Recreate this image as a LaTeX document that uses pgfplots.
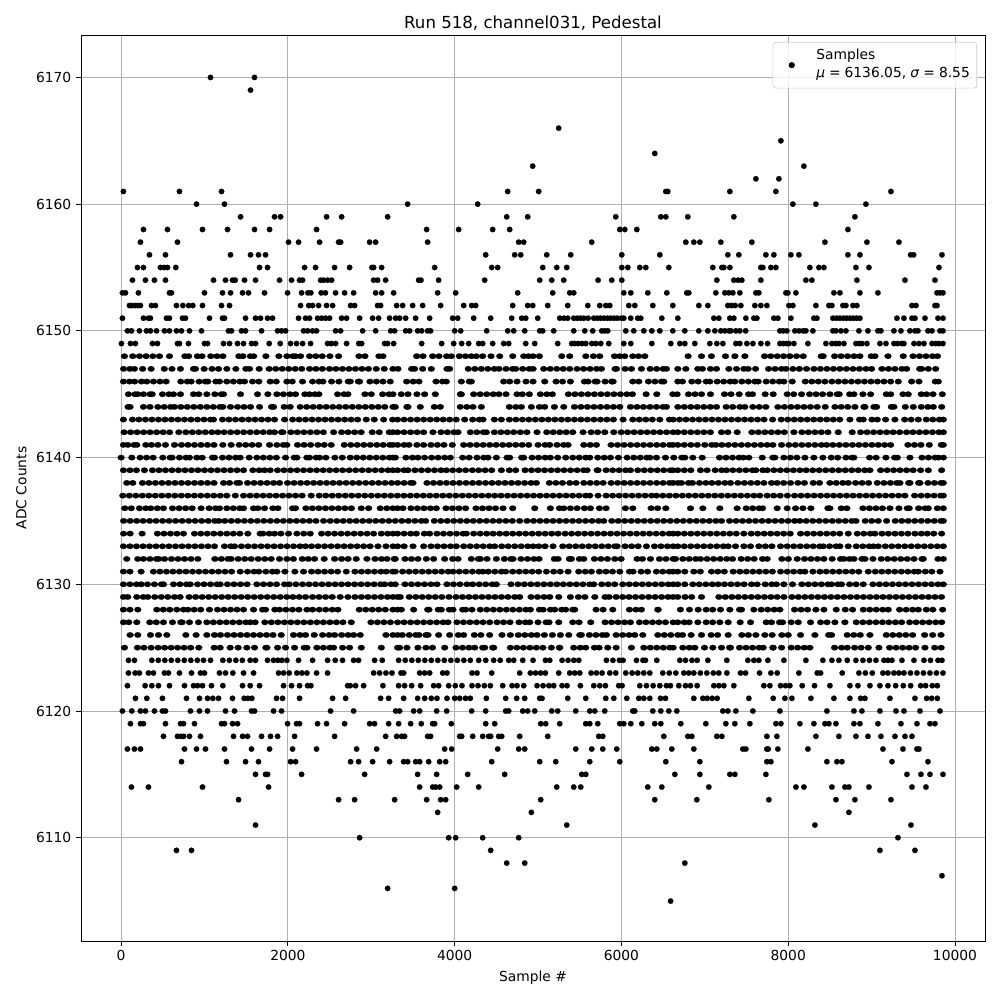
\documentclass[border=0pt]{standalone}
\usepackage{pgfplots}
\pgfplotsset{compat=1.18}
\usepackage{fontspec}
\setmainfont{DejaVu Sans}
\begin{document}
\begin{tikzpicture}[x=1in,y=1in]
\useasboundingbox (0,0) rectangle (10,10);
\begin{axis}[
  at={(0.81in,0.59in)},anchor=south west,
  scale only axis,width=9.04in,height=9.06in,
  xmin=-481,xmax=10360,ymin=6101.85,ymax=6173.35,
  xtick={0,2000,...,10000},ytick={6110,6120,...,6170},
  /pgf/number format/assume math mode=true,
  /pgf/number format/1000 sep={},
  scaled x ticks=false,scaled y ticks=false,
  tick style={black,line width=0.6pt},tick align=outside,
  major tick length=3.5pt,xtick pos=bottom,ytick pos=left,
  axis line style={line width=0.6pt},
  grid=major,grid style={color=black!31,line width=0.7pt},
  ticklabel style={font=\fontsize{10}{12}\selectfont},
  xlabel={Sample \#},ylabel={ADC Counts},
  label style={font=\fontsize{10}{12}\selectfont},
  title={Run 518, channel031, Pedestal},
  title style={font=\fontsize{12}{14}\selectfont,yshift=-6pt},
  legend style={at={(0.9912,0.9923)},anchor=north east,draw=black!20,rounded corners=2pt,fill=white,fill opacity=0.8,text opacity=1,font=\fontsize{10}{12}\selectfont,inner ysep=13.8pt,inner xsep=3pt},
  legend cell align=left,
  legend image code/.code={\path (-10.5pt,0) (15.5pt,0);\fill[black,fill opacity=1] (0,0) circle (2pt);},
]
\addplot[only marks,mark=*,mark size=2pt,mark options={fill=black,draw=black,line width=0.1pt}] table {
1072 6170
1600 6170
1552 6169
5248 6166
7912 6165
6400 6164
4936 6163
8188 6163
7612 6162
7888 6162
28 6161
700 6161
1204 6161
4636 6161
5008 6161
6532 6161
6556 6161
7300 6161
7852 6161
9232 6161
904 6160
1240 6160
3436 6160
4276 6160
8056 6160
8332 6160
8932 6160
1432 6159
1840 6159
1912 6159
2464 6159
2644 6159
3196 6159
4624 6159
4876 6159
5932 6159
6472 6159
6532 6159
6796 6159
7348 6159
8800 6159
268 6158
556 6158
976 6158
1276 6158
1600 6158
1780 6158
2344 6158
3664 6158
4048 6158
4456 6158
4660 6158
5980 6158
6040 6158
6184 6158
8716 6158
232 6157
676 6157
2008 6157
2128 6157
2380 6157
2608 6157
2632 6157
2980 6157
3052 6157
3676 6157
4768 6157
4828 6157
5644 6157
6772 6157
6868 6157
6940 6157
7192 6157
7564 6157
8440 6157
8944 6157
9328 6157
340 6156
532 6156
1312 6156
1552 6156
1648 6156
1732 6156
4372 6156
4720 6156
4792 6156
5104 6156
5392 6156
6004 6156
6460 6156
7276 6156
7408 6156
7732 6156
7828 6156
8032 6156
8128 6156
8716 6156
8860 6156
9468 6156
9504 6156
9844 6156
196 6155
268 6155
472 6155
516 6155
556 6155
656 6155
1660 6155
1756 6155
2200 6155
2332 6155
2560 6155
2740 6155
3008 6155
3028 6155
3124 6155
3760 6155
4444 6155
4516 6155
5056 6155
5224 6155
5344 6155
6004 6155
6076 6155
6220 6155
6292 6155
6568 6155
7096 6155
7204 6155
7228 6155
7300 6155
7672 6155
7696 6155
7792 6155
7852 6155
8260 6155
8368 6155
8428 6155
8812 6155
8968 6155
9808 6155
136 6154
292 6154
400 6154
532 6154
1108 6154
1252 6154
1336 6154
1368 6154
1480 6154
1612 6154
1900 6154
2044 6154
2140 6154
2176 6154
2392 6154
2428 6154
2476 6154
2524 6154
3028 6154
3076 6154
3172 6154
3568 6154
3596 6154
3808 6154
4360 6154
5020 6154
5164 6154
5308 6154
5720 6154
5884 6154
6004 6154
7144 6154
7348 6154
7400 6154
7444 6154
7672 6154
8212 6154
8284 6154
8824 6154
9400 6154
9760 6154
16 6153
52 6153
208 6153
580 6153
604 6153
1000 6153
1216 6153
1312 6153
1456 6153
1528 6153
1720 6153
1996 6153
2164 6153
2240 6153
2276 6153
2400 6153
2450 6153
2572 6153
2680 6153
2788 6153
3052 6153
3124 6153
3268 6153
3796 6153
4012 6153
4756 6153
5176 6153
5380 6153
5428 6153
6028 6153
6112 6153
6316 6153
6544 6153
6784 6153
6808 6153
7132 6153
7240 6153
7288 6153
7336 6153
7420 6153
7612 6153
7648 6153
7972 6153
7996 6153
8092 6153
8548 6153
8620 6153
8860 6153
9076 6153
9784 6153
9820 6153
9856 6153
100 6152
130 6152
170 6152
200 6152
232 6152
364 6152
412 6152
664 6152
740 6152
810 6152
860 6152
976 6152
1204 6152
1300 6152
2152 6152
2250 6152
2296 6152
2368 6152
2464 6152
2536 6152
2752 6152
2800 6152
3076 6152
3112 6152
3304 6152
3376 6152
3496 6152
3616 6152
3832 6152
4108 6152
4204 6152
4252 6152
4696 6152
4876 6152
4936 6152
5116 6152
5356 6152
5596 6152
5740 6152
5812 6152
5860 6152
6088 6152
6160 6152
6376 6152
6616 6152
6928 6152
7036 6152
7276 6152
7320 6152
7364 6152
7432 6152
7600 6152
7672 6152
7744 6152
8008 6152
8056 6152
8332 6152
8488 6152
8524 6152
8656 6152
8692 6152
8776 6152
8824 6152
9484 6152
9532 6152
9760 6152
9784 6152
16 6151
268 6151
328 6151
352 6151
544 6151
580 6151
736 6151
772 6151
1060 6151
1216 6151
1240 6151
1492 6151
1612 6151
1672 6151
1756 6151
1816 6151
2128 6151
2212 6151
2260 6151
2356 6151
2404 6151
2452 6151
2500 6151
2644 6151
2704 6151
2860 6151
3016 6151
3088 6151
3220 6151
3292 6151
3340 6151
3412 6151
3532 6151
3700 6151
3976 6151
4036 6151
4228 6151
4432 6151
4684 6151
4804 6151
4852 6151
4996 6151
5260 6151
5310 6151
5356 6151
5428 6151
5470 6151
5510 6151
5548 6151
5600 6151
5668 6151
5710 6151
5750 6151
5790 6151
5830 6151
5870 6151
5910 6151
5950 6151
6000 6151
6028 6151
6112 6151
6196 6151
6232 6151
6484 6151
6676 6151
7108 6151
7168 6151
7300 6151
7348 6151
7492 6151
7588 6151
7624 6151
7828 6151
7876 6151
8032 6151
8308 6151
8344 6151
8536 6151
8580 6151
8620 6151
8664 6151
8700 6151
8740 6151
8780 6151
8820 6151
8860 6151
9304 6151
9388 6151
9484 6151
9520 6151
9640 6151
9796 6151
9856 6151
76 6150
124 6150
220 6150
304 6150
352 6150
424 6150
520 6150
580 6150
664 6150
724 6150
820 6150
964 6150
1288 6150
1324 6150
1444 6150
1492 6150
1684 6150
1876 6150
1924 6150
1972 6150
2188 6150
2236 6150
2296 6150
2344 6150
2572 6150
2632 6150
2896 6150
3052 6150
3232 6150
3280 6150
3412 6150
3460 6150
3556 6150
3604 6150
3676 6150
3712 6150
4000 6150
4072 6150
4384 6150
4636 6150
4708 6150
4840 6150
5020 6150
5056 6150
5188 6150
5428 6150
5560 6150
5656 6150
5764 6150
5800 6150
5836 6150
6052 6150
6148 6150
6268 6150
6364 6150
6460 6150
6616 6150
6760 6150
6928 6150
7036 6150
7120 6150
7192 6150
7240 6150
7290 6150
7312 6150
7372 6150
7420 6150
7490 6150
7900 6150
7940 6150
7984 6150
8080 6150
8130 6150
8180 6150
8212 6150
8296 6150
8536 6150
8572 6150
8632 6150
8692 6150
8848 6150
8956 6150
9076 6150
9112 6150
9268 6150
9352 6150
9460 6150
9520 6150
9556 6150
9676 6150
9724 6150
9820 6150
9856 6150
4 6149
112 6149
172 6149
376 6149
436 6149
676 6149
700 6149
808 6149
1000 6149
1036 6149
1228 6149
1300 6149
1396 6149
1468 6149
1564 6149
1612 6149
1776 6149
1908 6149
2032 6149
2104 6149
2176 6149
2272 6149
2476 6149
2520 6149
2572 6149
2704 6149
2850 6149
2884 6149
3160 6149
3196 6149
3268 6149
3604 6149
3844 6149
3988 6149
4084 6149
4168 6149
4288 6149
4336 6149
4456 6149
4588 6149
4648 6149
4852 6149
4960 6149
5236 6149
5404 6149
5440 6149
5480 6149
5524 6149
5572 6149
5644 6149
5692 6149
5752 6149
5848 6149
6028 6149
6112 6149
6364 6149
6592 6149
6700 6149
6760 6149
6880 6149
7060 6149
7144 6149
7216 6149
7372 6149
7420 6149
7504 6149
7576 6149
7672 6149
7752 6149
7900 6149
7940 6149
7980 6149
8008 6149
8068 6149
8236 6149
8452 6149
8524 6149
8570 6149
8608 6149
8668 6149
8812 6149
8850 6149
8884 6149
8944 6149
9100 6149
9172 6149
9268 6149
9310 6149
9360 6149
9388 6149
9508 6149
9568 6149
9628 6149
9724 6149
9770 6149
9808 6149
9856 6149
88 6124
160 6124
368 6124
446 6124
524 6124
602 6124
680 6124
758 6124
836 6124
914 6124
988 6124
1072 6124
1220 6124
1298 6124
1376 6124
1454 6124
1548 6124
1612 6124
1756 6124
1828 6124
1880 6124
1928 6124
1988 6124
2128 6124
2296 6124
2476 6124
2568 6124
2656 6124
2788 6124
2848 6124
3040 6124
3132 6124
3328 6124
3408 6124
3486 6124
3564 6124
3642 6124
3720 6124
3798 6124
3876 6124
3954 6124
4032 6124
4110 6124
4188 6124
4288 6124
4372 6124
4468 6124
4546 6124
4648 6124
4708 6124
4816 6124
4940 6124
5088 6124
5140 6124
5288 6124
5360 6124
5428 6124
5488 6124
5820 6124
5898 6124
5976 6124
6020 6124
6180 6124
6258 6124
6288 6124
6424 6124
6700 6124
6768 6124
6846 6124
6908 6124
7036 6124
7264 6124
7516 6124
7588 6124
7648 6124
7756 6124
7948 6124
8212 6124
8416 6124
8524 6124
8608 6124
8708 6124
8812 6124
8896 6124
8974 6124
9052 6124
9148 6124
9196 6124
9244 6124
9364 6124
9508 6124
9628 6124
9706 6124
9796 6124
9844 6124
88 6123
168 6123
220 6123
328 6123
388 6123
520 6123
568 6123
700 6123
844 6123
952 6123
1000 6123
1180 6123
1252 6123
1340 6123
1468 6123
1588 6123
1888 6123
1948 6123
2016 6123
2108 6123
2168 6123
2228 6123
2344 6123
2476 6123
3028 6123
3100 6123
3176 6123
3248 6123
3356 6123
3388 6123
3580 6123
3640 6123
3700 6123
3856 6123
3908 6123
4208 6123
4268 6123
4444 6123
4780 6123
4908 6123
4970 6123
5030 6123
5088 6123
5248 6123
5380 6123
5440 6123
5500 6123
5636 6123
5700 6123
5768 6123
5860 6123
5932 6123
6052 6123
6128 6123
6196 6123
6268 6123
6340 6123
6496 6123
6574 6123
6652 6123
6748 6123
6808 6123
6868 6123
6946 6123
7024 6123
7102 6123
7168 6123
7264 6123
7428 6123
7488 6123
7656 6123
7792 6123
7868 6123
8128 6123
8348 6123
8388 6123
8648 6123
8848 6123
8926 6123
9008 6123
9136 6123
9196 6123
9268 6123
9328 6123
9388 6123
9466 6123
9544 6123
9622 6123
9700 6123
9778 6123
9856 6123
76 6122
288 6122
368 6122
448 6122
580 6122
760 6122
868 6122
916 6122
976 6122
1084 6122
1220 6122
1456 6122
1548 6122
1660 6122
1948 6122
2044 6122
2140 6122
2236 6122
2276 6122
2716 6122
2748 6122
2812 6122
2908 6122
3140 6122
3328 6122
3400 6122
3484 6122
3592 6122
3748 6122
3808 6122
3928 6122
4008 6122
4088 6122
4208 6122
4280 6122
4356 6122
4428 6122
4576 6122
4688 6122
4748 6122
4828 6122
4988 6122
5060 6122
5130 6122
5188 6122
5288 6122
5348 6122
5508 6122
5668 6122
5740 6122
5808 6122
5968 6122
6008 6122
6220 6122
6300 6122
6380 6122
6460 6122
6540 6122
6588 6122
6688 6122
6768 6122
6828 6122
6908 6122
7108 6122
7168 6122
7228 6122
7348 6122
7708 6122
7780 6122
7908 6122
7968 6122
8020 6122
8168 6122
8316 6122
8500 6122
8740 6122
8836 6122
8980 6122
9100 6122
9196 6122
9288 6122
9380 6122
9468 6122
9588 6122
9648 6122
9728 6122
9788 6122
172 6121
308 6121
496 6121
784 6121
940 6121
1036 6121
1100 6121
1168 6121
1336 6121
1476 6121
1520 6121
1568 6121
1864 6121
1936 6121
2140 6121
2536 6121
2692 6121
3112 6121
3208 6121
3388 6121
3556 6121
3640 6121
3720 6121
3788 6121
3908 6121
4000 6121
4060 6121
4130 6121
4188 6121
4380 6121
4612 6121
4744 6121
4840 6121
5020 6121
5048 6121
5356 6121
5572 6121
5812 6121
5908 6121
6064 6121
6208 6121
6268 6121
6340 6121
6468 6121
6528 6121
6868 6121
6976 6121
7028 6121
7088 6121
7148 6121
7528 6121
7820 6121
7960 6121
8044 6121
8272 6121
8548 6121
8740 6121
8868 6121
8920 6121
9220 6121
9520 6121
9660 6121
9720 6121
9788 6121
16 6120
128 6120
232 6120
292 6120
400 6120
496 6120
532 6120
832 6120
940 6120
1036 6120
1252 6120
1360 6120
1564 6120
1600 6120
1828 6120
1924 6120
2512 6120
2788 6120
3292 6120
3340 6120
3508 6120
3580 6120
3784 6120
3904 6120
4204 6120
4372 6120
4612 6120
4648 6120
4816 6120
4876 6120
4960 6120
5164 6120
5236 6120
5452 6120
5620 6120
5680 6120
5800 6120
6136 6120
6160 6120
6376 6120
6472 6120
6568 6120
6664 6120
7216 6120
7276 6120
7372 6120
7576 6120
7900 6120
8464 6120
8788 6120
8884 6120
9100 6120
9292 6120
9388 6120
9580 6120
9820 6120
112 6119
232 6119
268 6119
532 6119
712 6119
748 6119
880 6119
1204 6119
1240 6119
1336 6119
1396 6119
1996 6119
2104 6119
2140 6119
2356 6119
2464 6119
2680 6119
2980 6119
3040 6119
3208 6119
3328 6119
3472 6119
3600 6119
3736 6119
3760 6119
3960 6119
4372 6119
4480 6119
5032 6119
5092 6119
5260 6119
5572 6119
5620 6119
5716 6119
5980 6119
6028 6119
6112 6119
6244 6119
6400 6119
6472 6119
6712 6119
7012 6119
7252 6119
7360 6119
7540 6119
7852 6119
7912 6119
8140 6119
8308 6119
8440 6119
8488 6119
8572 6119
8788 6119
8860 6119
9076 6119
9352 6119
9544 6119
9700 6119
9760 6119
508 6118
676 6118
720 6118
750 6118
820 6118
952 6118
1348 6118
1456 6118
1516 6118
1684 6118
1792 6118
1876 6118
2080 6118
2560 6118
3172 6118
3304 6118
3364 6118
3400 6118
3676 6118
3712 6118
4060 6118
4084 6118
4216 6118
4336 6118
4408 6118
4432 6118
4528 6118
4564 6118
4780 6118
5116 6118
5728 6118
5776 6118
6508 6118
6796 6118
6844 6118
7144 6118
7204 6118
7744 6118
7864 6118
8332 6118
8608 6118
8812 6118
8956 6118
9112 6118
9280 6118
9400 6118
9484 6118
76 6117
160 6117
232 6117
760 6117
904 6117
1012 6117
1240 6117
1564 6117
1780 6117
2056 6117
2344 6117
2824 6117
3064 6117
3880 6117
3964 6117
4516 6117
4768 6117
4840 6117
5452 6117
5644 6117
5776 6117
5944 6117
6364 6117
6424 6117
6604 6117
6868 6117
7456 6117
7492 6117
7744 6117
7760 6117
7876 6117
8236 6117
9136 6117
9376 6117
9544 6117
9568 6117
724 6116
1264 6116
1492 6116
1648 6116
2032 6116
2092 6116
2752 6116
2848 6116
3016 6116
3220 6116
3388 6116
3436 6116
3532 6116
3580 6116
3688 6116
3820 6116
3892 6116
4444 6116
5020 6116
5212 6116
5620 6116
5980 6116
6532 6116
6940 6116
7744 6116
7792 6116
8464 6116
8584 6116
8644 6116
9244 6116
9676 6116
1612 6115
1732 6115
1756 6115
2164 6115
2920 6115
3556 6115
3784 6115
4156 6115
4600 6115
5524 6115
5572 6115
6640 6115
6940 6115
7300 6115
7360 6115
7732 6115
9424 6115
9592 6115
9700 6115
9856 6115
124 6114
328 6114
976 6114
1768 6114
3580 6114
3736 6114
3772 6114
3820 6114
4024 6114
4288 6114
5224 6114
5428 6114
5512 6114
6316 6114
6484 6114
7048 6114
8092 6114
8188 6114
8524 6114
8680 6114
8728 6114
8968 6114
9484 6114
9652 6114
1408 6113
2608 6113
2800 6113
3280 6113
3664 6113
3832 6113
3892 6113
5032 6113
6400 6113
6904 6113
7768 6113
8572 6113
8800 6113
9232 6113
3796 6112
4920 6112
8728 6112
1612 6111
5344 6111
8320 6111
9472 6111
2860 6110
3928 6110
4012 6110
4336 6110
4768 6110
9316 6110
664 6109
844 6109
4432 6109
9100 6109
9520 6109
4624 6108
4840 6108
6760 6108
9844 6107
3196 6106
4000 6106
6590 6105
};
\addlegendentry{\raisebox{3pt}[0pt][0pt]{\begin{minipage}[t]{111pt}Samples\\[0.6pt]\textit{μ} = 6136.05, \textit{σ} = 8.55\end{minipage}}}
\addplot[only marks,forget plot,mark=*,mark size=2pt,mark options={xscale=1.25,fill=black,draw=black,line width=0.1pt}] table {
40 6148
140 6148
220 6148
300 6148
380 6148
460 6148
580 6148
765 6148
810 6148
915 6148
970 6148
1075 6148
1150 6148
1220 6148
1412 6148
1460 6148
1550 6148
1590 6148
1736 6148
1892 6148
1988 6148
2060 6148
2092 6148
2152 6148
2260 6148
2335 6148
2412 6148
2504 6148
2608 6148
2852 6148
2924 6148
3092 6148
3140 6148
3544 6148
3620 6148
3736 6148
3812 6148
3904 6148
3960 6148
4056 6148
4130 6148
4200 6148
4260 6148
4336 6148
4436 6148
4540 6148
4696 6148
4828 6148
4885 6148
4940 6148
5016 6148
5284 6148
5380 6148
5572 6148
5664 6148
5740 6148
5916 6148
5980 6148
6040 6148
6136 6148
6205 6148
6280 6148
6800 6148
6960 6148
7080 6148
7248 6148
7360 6148
7480 6148
7716 6148
7790 6148
7868 6148
7945 6148
8020 6148
8100 6148
8180 6148
8396 6148
8420 6148
8556 6148
8634 6148
8712 6148
8790 6148
8860 6148
8996 6148
9040 6148
9196 6148
9380 6148
9496 6148
9574 6148
9652 6148
9730 6148
9790 6148
30 6147
105 6147
160 6147
258 6147
360 6147
518 6147
610 6147
712 6147
868 6147
892 6147
996 6147
1090 6147
1168 6147
1268 6147
1376 6147
1496 6147
1540 6147
1656 6147
1776 6147
1854 6147
1932 6147
2010 6147
2088 6147
2166 6147
2260 6147
2336 6147
2414 6147
2500 6147
2576 6147
2654 6147
2732 6147
2810 6147
2888 6147
2966 6147
3060 6147
3156 6147
3260 6147
3320 6147
3484 6147
3520 6147
3616 6147
3720 6147
3908 6147
3940 6147
4164 6147
4242 6147
4320 6147
4398 6147
4476 6147
4532 6147
4616 6147
4694 6147
4732 6147
4816 6147
4894 6147
4940 6147
5068 6147
5146 6147
5224 6147
5302 6147
5380 6147
5468 6147
5546 6147
5624 6147
5702 6147
5760 6147
5924 6147
5940 6147
6044 6147
6120 6147
6240 6147
6344 6147
6422 6147
6500 6147
6540 6147
6676 6147
6772 6147
6916 6147
6972 6147
7068 6147
7140 6147
7288 6147
7380 6147
7468 6147
7520 6147
7608 6147
7764 6147
7842 6147
7920 6147
7972 6147
8056 6147
8134 6147
8220 6147
8308 6147
8386 6147
8464 6147
8542 6147
8620 6147
8698 6147
8776 6147
8854 6147
8932 6147
9000 6147
9124 6147
9202 6147
9280 6147
9364 6147
9420 6147
9576 6147
9600 6147
9680 6147
9768 6147
28 6146
100 6146
162 6146
244 6146
308 6146
388 6146
466 6146
540 6146
716 6146
794 6146
840 6146
936 6146
1010 6146
1040 6146
1136 6146
1180 6146
1268 6146
1346 6146
1424 6146
1480 6146
1576 6146
1652 6146
1788 6146
1860 6146
1988 6146
2052 6146
2176 6146
2296 6146
2374 6146
2420 6146
2524 6146
2612 6146
2724 6146
2748 6146
2844 6146
2860 6146
2984 6146
3062 6146
3140 6146
3228 6146
3424 6146
3502 6146
3572 6146
3776 6146
3854 6146
3900 6146
4080 6146
4176 6146
4200 6146
4588 6146
4660 6146
4748 6146
4856 6146
4940 6146
5080 6146
5216 6146
5294 6146
5388 6146
5556 6146
5600 6146
5684 6146
5708 6146
5804 6146
5882 6146
5900 6146
6136 6146
6208 6146
6324 6146
6402 6146
6480 6146
6508 6146
6676 6146
6732 6146
6844 6146
6920 6146
7016 6146
7060 6146
7148 6146
7226 6146
7304 6146
7360 6146
7444 6146
7522 6146
7600 6146
7640 6146
7736 6146
7814 6146
7892 6146
7948 6146
8048 6146
8204 6146
8282 6146
8360 6146
8440 6146
8524 6146
8602 6146
8680 6146
8758 6146
8836 6146
8914 6146
8992 6146
9070 6146
9148 6146
9228 6146
9320 6146
9480 6146
9568 6146
9764 6146
9800 6146
88 6145
166 6145
200 6145
268 6145
346 6145
372 6145
496 6145
574 6145
628 6145
712 6145
868 6145
932 6145
1028 6145
1124 6145
1202 6145
1228 6145
1432 6145
1636 6145
1760 6145
1868 6145
1946 6145
2024 6145
2092 6145
2204 6145
2260 6145
2324 6145
2372 6145
2596 6145
2674 6145
2720 6145
2924 6145
3000 6145
3136 6145
3214 6145
3260 6145
3360 6145
3440 6145
3548 6145
3640 6145
3768 6145
4068 6145
4080 6145
4228 6145
4306 6145
4384 6145
4462 6145
4532 6145
4616 6145
4748 6145
4812 6145
4896 6145
5028 6145
5106 6145
5172 6145
5364 6145
5442 6145
5520 6145
5598 6145
5676 6145
5754 6145
5832 6145
5910 6145
5988 6145
6066 6145
6132 6145
6296 6145
6424 6145
6616 6145
6668 6145
6804 6145
6882 6145
6960 6145
7068 6145
7236 6145
7314 6145
7412 6145
7524 6145
7572 6145
7724 6145
7820 6145
7988 6145
8066 6145
8160 6145
8256 6145
8334 6145
8412 6145
8500 6145
8588 6145
8612 6145
8736 6145
8788 6145
8896 6145
8988 6145
9176 6145
9228 6145
9376 6145
9440 6145
9596 6145
9660 6145
9736 6145
9848 6145
84 6144
108 6144
268 6144
346 6144
440 6144
516 6144
594 6144
640 6144
716 6144
794 6144
872 6144
950 6144
1028 6144
1106 6144
1184 6144
1220 6144
1312 6144
1396 6144
1474 6144
1552 6144
1660 6144
1804 6144
1828 6144
1956 6144
2028 6144
2148 6144
2226 6144
2304 6144
2382 6144
2460 6144
2538 6144
2616 6144
2694 6144
2772 6144
2850 6144
2928 6144
3006 6144
3084 6144
3162 6144
3260 6144
3288 6144
3428 6144
3440 6144
3588 6144
3756 6144
3828 6144
4068 6144
4146 6144
4220 6144
4320 6144
4656 6144
4734 6144
4800 6144
4920 6144
5016 6144
5080 6144
5196 6144
5308 6144
5436 6144
5514 6144
5592 6144
5670 6144
5748 6144
5826 6144
5904 6144
5980 6144
6108 6144
6186 6144
6264 6144
6342 6144
6420 6144
6498 6144
6540 6144
6676 6144
6754 6144
6832 6144
6910 6144
6988 6144
7066 6144
7140 6144
7256 6144
7334 6144
7420 6144
7480 6144
7576 6144
7654 6144
7732 6144
7876 6144
7954 6144
8032 6144
8110 6144
8188 6144
8266 6144
8348 6144
8444 6144
8560 6144
8636 6144
8714 6144
8800 6144
8908 6144
8920 6144
9028 6144
9060 6144
9236 6144
9268 6144
9404 6144
9500 6144
9596 6144
9674 6144
9740 6144
9840 6144
28 6143
136 6143
214 6143
292 6143
370 6143
448 6143
526 6143
604 6143
682 6143
760 6143
838 6143
916 6143
994 6143
1072 6143
1108 6143
1216 6143
1294 6143
1372 6143
1450 6143
1528 6143
1606 6143
1684 6143
1762 6143
1840 6143
1960 6143
2056 6143
2134 6143
2212 6143
2290 6143
2368 6143
2446 6143
2524 6143
2602 6143
2680 6143
2758 6143
2836 6143
2940 6143
3036 6143
3148 6143
3256 6143
3316 6143
3394 6143
3472 6143
3550 6143
3628 6143
3706 6143
3784 6143
3862 6143
3940 6143
4018 6143
4120 6143
4216 6143
4296 6143
4340 6143
4476 6143
4560 6143
4656 6143
4734 6143
4812 6143
4890 6143
4968 6143
5046 6143
5124 6143
5202 6143
5280 6143
5358 6143
5436 6143
5514 6143
5592 6143
5670 6143
5748 6143
5826 6143
5904 6143
6020 6143
6136 6143
6214 6143
6292 6143
6370 6143
6460 6143
6576 6143
6620 6143
6696 6143
6774 6143
6852 6143
6930 6143
7008 6143
7086 6143
7164 6143
7242 6143
7320 6143
7398 6143
7476 6143
7554 6143
7632 6143
7710 6143
7812 6143
7916 6143
7994 6143
8072 6143
8150 6143
8228 6143
8306 6143
8384 6143
8462 6143
8540 6143
8618 6143
8740 6143
8856 6143
8900 6143
9004 6143
9068 6143
9168 6143
9280 6143
9396 6143
9474 6143
9560 6143
9656 6143
9734 6143
9812 6143
9860 6143
36 6142
114 6142
192 6142
270 6142
348 6142
426 6142
504 6142
582 6142
692 6142
776 6142
854 6142
932 6142
1010 6142
1088 6142
1160 6142
1236 6142
1314 6142
1392 6142
1470 6142
1548 6142
1626 6142
1704 6142
1782 6142
1840 6142
1924 6142
1940 6142
2036 6142
2114 6142
2192 6142
2270 6142
2348 6142
2426 6142
2548 6142
2644 6142
2722 6142
2800 6142
2878 6142
3012 6142
3096 6142
3216 6142
3260 6142
3316 6142
3394 6142
3472 6142
3550 6142
3628 6142
3740 6142
3836 6142
3914 6142
3992 6142
4040 6142
4188 6142
4266 6142
4344 6142
4380 6142
4476 6142
4554 6142
4632 6142
4708 6142
4788 6142
4866 6142
4988 6142
5104 6142
5182 6142
5260 6142
5338 6142
5416 6142
5540 6142
5636 6142
5714 6142
5800 6142
5908 6142
5996 6142
6074 6142
6152 6142
6230 6142
6308 6142
6386 6142
6464 6142
6542 6142
6620 6142
6676 6142
6754 6142
6832 6142
6910 6142
6988 6142
7066 6142
7200 6142
7276 6142
7388 6142
7564 6142
7642 6142
7720 6142
7798 6142
7876 6142
7954 6142
8068 6142
8164 6142
8242 6142
8320 6142
8398 6142
8476 6142
8600 6142
8768 6142
8868 6142
8946 6142
9024 6142
9102 6142
9180 6142
9258 6142
9336 6142
9420 6142
9496 6142
9574 6142
9652 6142
9730 6142
9808 6142
9860 6142
28 6141
80 6141
156 6141
188 6141
296 6141
364 6141
442 6141
532 6141
640 6141
724 6141
802 6141
880 6141
958 6141
1036 6141
1114 6141
1220 6141
1320 6141
1416 6141
1494 6141
1572 6141
1650 6141
1780 6141
1868 6141
1946 6141
1988 6141
2116 6141
2194 6141
2272 6141
2360 6141
2436 6141
2520 6141
2676 6141
2754 6141
2832 6141
2910 6141
2988 6141
3066 6141
3144 6141
3222 6141
3260 6141
3316 6141
3394 6141
3452 6141
3548 6141
3628 6141
3716 6141
3794 6141
3872 6141
3972 6141
4108 6141
4186 6141
4264 6141
4342 6141
4420 6141
4498 6141
4576 6141
4654 6141
4732 6141
4810 6141
4888 6141
5000 6141
5084 6141
5140 6141
5228 6141
5306 6141
5360 6141
5548 6141
5626 6141
5700 6141
5876 6141
5954 6141
6032 6141
6110 6141
6188 6141
6266 6141
6344 6141
6422 6141
6500 6141
6578 6141
6620 6141
6676 6141
6754 6141
6832 6141
6910 6141
7000 6141
7084 6141
7132 6141
7204 6141
7282 6141
7360 6141
7438 6141
7516 6141
7594 6141
7672 6141
7748 6141
7816 6141
7920 6141
8008 6141
8086 6141
8164 6141
8242 6141
8320 6141
8398 6141
8460 6141
8536 6141
8614 6141
8692 6141
8770 6141
8848 6141
8926 6141
9004 6141
9080 6141
9156 6141
9228 6141
9436 6141
9514 6141
9592 6141
9692 6141
9836 6141
9860 6141
0 6140
128 6140
228 6140
306 6140
384 6140
500 6140
588 6140
612 6140
700 6140
778 6140
820 6140
908 6140
972 6140
1096 6140
1120 6140
1216 6140
1294 6140
1372 6140
1428 6140
1536 6140
1628 6140
1706 6140
1784 6140
1862 6140
1972 6140
2076 6140
2108 6140
2228 6140
2260 6140
2340 6140
2380 6140
2456 6140
2564 6140
2652 6140
2748 6140
2826 6140
2904 6140
2982 6140
3060 6140
3138 6140
3216 6140
3260 6140
3288 6140
3416 6140
3494 6140
3560 6140
3640 6140
3724 6140
3802 6140
3880 6140
3948 6140
4096 6140
4174 6140
4268 6140
4348 6140
4400 6140
4500 6140
4628 6140
4660 6140
4804 6140
4828 6140
4928 6140
5006 6140
5084 6140
5148 6140
5236 6140
5332 6140
5416 6140
5494 6140
5572 6140
5620 6140
5716 6140
5794 6140
5868 6140
5964 6140
6068 6140
6148 6140
6226 6140
6304 6140
6340 6140
6420 6140
6528 6140
6628 6140
6724 6140
6760 6140
6856 6140
6968 6140
7176 6140
7254 6140
7332 6140
7410 6140
7460 6140
7528 6140
7688 6140
7816 6140
7840 6140
7948 6140
8026 6140
8104 6140
8200 6140
8308 6140
8416 6140
8516 6140
8594 6140
8692 6140
8764 6140
8788 6140
8976 6140
9054 6140
9172 6140
9276 6140
9308 6140
9460 6140
9604 6140
9682 6140
9760 6140
9800 6140
9860 6140
28 6139
106 6139
184 6139
280 6139
376 6139
454 6139
532 6139
610 6139
688 6139
766 6139
844 6139
922 6139
1000 6139
1078 6139
1156 6139
1234 6139
1312 6139
1390 6139
1468 6139
1580 6139
1656 6139
1720 6139
1788 6139
1876 6139
1954 6139
2032 6139
2110 6139
2188 6139
2266 6139
2344 6139
2422 6139
2500 6139
2578 6139
2656 6139
2734 6139
2812 6139
2890 6139
2968 6139
3046 6139
3124 6139
3202 6139
3260 6139
3316 6139
3394 6139
3440 6139
3524 6139
3602 6139
3680 6139
3758 6139
3836 6139
3900 6139
3976 6139
4054 6139
4132 6139
4212 6139
4288 6139
4366 6139
4444 6139
4560 6139
4656 6139
4732 6139
4844 6139
4922 6139
5000 6139
5078 6139
5156 6139
5234 6139
5312 6139
5390 6139
5468 6139
5546 6139
5588 6139
5708 6139
5720 6139
5816 6139
5894 6139
5972 6139
6050 6139
6108 6139
6196 6139
6274 6139
6352 6139
6430 6139
6508 6139
6586 6139
6620 6139
6676 6139
6754 6139
6832 6139
6948 6139
7028 6139
7124 6139
7202 6139
7260 6139
7336 6139
7414 6139
7492 6139
7570 6139
7612 6139
7696 6139
7748 6139
7828 6139
7906 6139
7984 6139
8062 6139
8140 6139
8216 6139
8294 6139
8372 6139
8450 6139
8528 6139
8606 6139
8684 6139
8762 6139
8840 6139
8918 6139
8980 6139
9108 6139
9186 6139
9264 6139
9342 6139
9420 6139
9498 6139
9588 6139
9680 6139
9840 6139
68 6138
140 6138
256 6138
334 6138
412 6138
490 6138
568 6138
646 6138
724 6138
802 6138
880 6138
958 6138
1036 6138
1114 6138
1228 6138
1300 6138
1388 6138
1420 6138
1516 6138
1594 6138
1672 6138
1750 6138
1828 6138
1900 6138
1996 6138
2074 6138
2152 6138
2230 6138
2308 6138
2386 6138
2464 6138
2542 6138
2620 6138
2698 6138
2776 6138
2854 6138
2932 6138
3010 6138
3088 6138
3166 6138
3244 6138
3316 6138
3394 6138
3472 6138
3500 6138
3668 6138
3746 6138
3824 6138
3902 6138
3980 6138
4058 6138
4136 6138
4214 6138
4292 6138
4370 6138
4448 6138
4526 6138
4604 6138
4682 6138
4760 6138
4838 6138
4916 6138
4980 6138
5136 6138
5214 6138
5292 6138
5380 6138
5456 6138
5548 6138
5626 6138
5704 6138
5780 6138
5876 6138
5954 6138
6032 6138
6110 6138
6188 6138
6266 6138
6344 6138
6422 6138
6500 6138
6578 6138
6620 6138
6676 6138
6720 6138
6804 6138
6852 6138
6936 6138
7012 6138
7084 6138
7162 6138
7240 6138
7308 6138
7396 6138
7474 6138
7552 6138
7630 6138
7708 6138
7800 6138
7868 6138
7946 6138
8028 6138
8116 6138
8194 6138
8300 6138
8376 6138
8500 6138
8576 6138
8654 6138
8720 6138
8808 6138
8886 6138
8964 6138
9068 6138
9148 6138
9226 6138
9304 6138
9340 6138
9444 6138
9460 6138
9564 6138
9580 6138
9676 6138
9754 6138
9832 6138
9860 6138
20 6137
98 6137
176 6137
254 6137
332 6137
410 6137
488 6137
566 6137
644 6137
722 6137
800 6137
878 6137
956 6137
1034 6137
1112 6137
1190 6137
1268 6137
1370 6137
1468 6137
1546 6137
1624 6137
1702 6137
1780 6137
1858 6137
1936 6137
2014 6137
2092 6137
2170 6137
2280 6137
2376 6137
2454 6137
2532 6137
2610 6137
2688 6137
2766 6137
2844 6137
2922 6137
3000 6137
3078 6137
3156 6137
3234 6137
3312 6137
3390 6137
3468 6137
3546 6137
3624 6137
3702 6137
3780 6137
3858 6137
3936 6137
4014 6137
4092 6137
4170 6137
4248 6137
4326 6137
4404 6137
4480 6137
4556 6137
4634 6137
4712 6137
4790 6137
4868 6137
4946 6137
5024 6137
5102 6137
5180 6137
5258 6137
5336 6137
5414 6137
5492 6137
5570 6137
5620 6137
5720 6137
5816 6137
5894 6137
5972 6137
6050 6137
6128 6137
6206 6137
6284 6137
6362 6137
6420 6137
6496 6137
6574 6137
6652 6137
6730 6137
6808 6137
6886 6137
6964 6137
7042 6137
7120 6137
7198 6137
7276 6137
7354 6137
7432 6137
7510 6137
7588 6137
7660 6137
7748 6137
7826 6137
7904 6137
7990 6137
8076 6137
8154 6137
8232 6137
8310 6137
8388 6137
8466 6137
8544 6137
8622 6137
8700 6137
8778 6137
8856 6137
8934 6137
9012 6137
9090 6137
9168 6137
9246 6137
9324 6137
9400 6137
9516 6137
9594 6137
9672 6137
9750 6137
9828 6137
9860 6137
44 6136
122 6136
220 6136
296 6136
356 6136
434 6136
508 6136
616 6136
696 6136
774 6136
852 6136
960 6136
1056 6136
1134 6136
1180 6136
1268 6136
1346 6136
1424 6136
1468 6136
1588 6136
1640 6136
1720 6136
1820 6136
1880 6136
2056 6136
2092 6136
2216 6136
2294 6136
2372 6136
2450 6136
2528 6136
2606 6136
2684 6136
2762 6136
2880 6136
2968 6136
3108 6136
3186 6136
3260 6136
3316 6136
3380 6136
3476 6136
3554 6136
3632 6136
3710 6136
3780 6136
3896 6136
3974 6136
4052 6136
4132 6136
4256 6136
4334 6136
4412 6136
4490 6136
4580 6136
4696 6136
4960 6136
5148 6136
5256 6136
5308 6136
5388 6136
5468 6136
5556 6136
5628 6136
5736 6136
5816 6136
6048 6136
6136 6136
6356 6136
6434 6136
6532 6136
6828 6136
6976 6136
7180 6136
7388 6136
7496 6136
7574 6136
7652 6136
7692 6136
7868 6136
7988 6136
8088 6136
8176 6136
8272 6136
8476 6136
8500 6136
8636 6136
8704 6136
8896 6136
8974 6136
9052 6136
9130 6136
9220 6136
9328 6136
9428 6136
9452 6136
9564 6136
9642 6136
9680 6136
9788 6136
9860 6136
30 6135
108 6135
186 6135
264 6135
342 6135
420 6135
498 6135
576 6135
654 6135
732 6135
810 6135
888 6135
966 6135
1044 6135
1122 6135
1172 6135
1244 6135
1322 6135
1400 6135
1478 6135
1556 6135
1634 6135
1712 6135
1790 6135
1868 6135
1946 6135
2024 6135
2102 6135
2180 6135
2258 6135
2336 6135
2428 6135
2508 6135
2586 6135
2664 6135
2742 6135
2820 6135
2898 6135
2976 6135
3054 6135
3132 6135
3210 6135
3288 6135
3366 6135
3444 6135
3522 6135
3600 6135
3652 6135
3756 6135
3834 6135
3912 6135
3990 6135
4068 6135
4146 6135
4224 6135
4302 6135
4380 6135
4458 6135
4536 6135
4614 6135
4692 6135
4780 6135
4868 6135
4946 6135
5024 6135
5102 6135
5180 6135
5258 6135
5336 6135
5414 6135
5492 6135
5570 6135
5648 6135
5726 6135
5788 6135
5884 6135
5962 6135
6040 6135
6118 6135
6196 6135
6274 6135
6352 6135
6430 6135
6508 6135
6586 6135
6664 6135
6742 6135
6820 6135
6898 6135
6976 6135
7054 6135
7132 6135
7200 6135
7296 6135
7374 6135
7452 6135
7530 6135
7608 6135
7686 6135
7764 6135
7842 6135
7920 6135
7998 6135
8076 6135
8140 6135
8216 6135
8294 6135
8372 6135
8450 6135
8528 6135
8606 6135
8684 6135
8762 6135
8812 6135
8924 6135
9002 6135
9080 6135
9180 6135
9284 6135
9362 6135
9440 6135
9518 6135
9596 6135
9674 6135
9752 6135
9830 6135
9860 6135
30 6134
108 6134
252 6134
436 6134
514 6134
592 6134
670 6134
748 6134
880 6134
956 6134
1034 6134
1112 6134
1190 6134
1268 6134
1346 6134
1424 6134
1520 6134
1668 6134
1700 6134
1776 6134
1840 6134
1916 6134
2008 6134
2108 6134
2190 6134
2268 6134
2404 6134
2482 6134
2560 6134
2638 6134
2716 6134
2794 6134
2872 6134
2950 6134
3028 6134
3120 6134
3196 6134
3260 6134
3316 6134
3394 6134
3472 6134
3540 6134
3636 6134
3700 6134
3788 6134
3866 6134
3944 6134
4022 6134
4100 6134
4140 6134
4228 6134
4306 6134
4384 6134
4462 6134
4540 6134
4618 6134
4696 6134
4774 6134
4852 6134
4930 6134
5008 6134
5086 6134
5164 6134
5240 6134
5324 6134
5402 6134
5480 6134
5558 6134
5636 6134
5714 6134
5792 6134
5870 6134
5948 6134
6026 6134
6104 6134
6182 6134
6260 6134
6338 6134
6416 6134
6494 6134
6572 6134
6620 6134
6676 6134
6754 6134
6832 6134
6910 6134
6988 6134
7066 6134
7144 6134
7222 6134
7300 6134
7378 6134
7468 6134
7556 6134
7634 6134
7712 6134
7790 6134
7868 6134
7946 6134
8024 6134
8148 6134
8228 6134
8306 6134
8384 6134
8462 6134
8540 6134
8618 6134
8720 6134
8828 6134
8906 6134
8984 6134
9040 6134
9124 6134
9202 6134
9280 6134
9358 6134
9436 6134
9520 6134
9596 6134
9668 6134
9746 6134
9840 6134
28 6133
106 6133
184 6133
262 6133
340 6133
418 6133
496 6133
574 6133
652 6133
730 6133
808 6133
886 6133
964 6133
1042 6133
1120 6133
1240 6133
1316 6133
1360 6133
1444 6133
1522 6133
1600 6133
1678 6133
1756 6133
1834 6133
1912 6133
1990 6133
2068 6133
2146 6133
2212 6133
2284 6133
2362 6133
2440 6133
2518 6133
2596 6133
2674 6133
2752 6133
2830 6133
2908 6133
2986 6133
3080 6133
3176 6133
3260 6133
3316 6133
3394 6133
3500 6133
3628 6133
3716 6133
3794 6133
3872 6133
3950 6133
4020 6133
4108 6133
4186 6133
4264 6133
4342 6133
4420 6133
4480 6133
4564 6133
4642 6133
4720 6133
4798 6133
4876 6133
4940 6133
5008 6133
5084 6133
5180 6133
5296 6133
5374 6133
5452 6133
5530 6133
5608 6133
5686 6133
5764 6133
5842 6133
5920 6133
5948 6133
6044 6133
6122 6133
6200 6133
6300 6133
6396 6133
6474 6133
6552 6133
6620 6133
6676 6133
6754 6133
6832 6133
6910 6133
6988 6133
7066 6133
7144 6133
7222 6133
7280 6133
7368 6133
7468 6133
7548 6133
7648 6133
7726 6133
7804 6133
7908 6133
7988 6133
8066 6133
8144 6133
8222 6133
8300 6133
8378 6133
8420 6133
8496 6133
8574 6133
8620 6133
8720 6133
8816 6133
8894 6133
8972 6133
9020 6133
9080 6133
9164 6133
9242 6133
9320 6133
9398 6133
9476 6133
9554 6133
9632 6133
9710 6133
9788 6133
9860 6133
68 6132
200 6132
268 6132
346 6132
424 6132
452 6132
520 6132
604 6132
682 6132
760 6132
838 6132
920 6132
1124 6132
1202 6132
1280 6132
1320 6132
1404 6132
1482 6132
1560 6132
1644 6132
1722 6132
1800 6132
1900 6132
1988 6132
2066 6132
2172 6132
2244 6132
2320 6132
2436 6132
2560 6132
2644 6132
2722 6132
2820 6132
2948 6132
3044 6132
3122 6132
3188 6132
3276 6132
3288 6132
3404 6132
3482 6132
3560 6132
3660 6132
3748 6132
3880 6132
3976 6132
4040 6132
4200 6132
4284 6132
4308 6132
4388 6132
4500 6132
4596 6132
4674 6132
4700 6132
4796 6132
4874 6132
4952 6132
5012 6132
5196 6132
5240 6132
5376 6132
5400 6132
5496 6132
5548 6132
5676 6132
5754 6132
5832 6132
5920 6132
5996 6132
6188 6132
6252 6132
6348 6132
6456 6132
6534 6132
6620 6132
6648 6132
6736 6132
6814 6132
6892 6132
6948 6132
7028 6132
7106 6132
7184 6132
7262 6132
7332 6132
7436 6132
7514 6132
7592 6132
7692 6132
7748 6132
7924 6132
8002 6132
8108 6132
8196 6132
8274 6132
8352 6132
8428 6132
8528 6132
8628 6132
8668 6132
8736 6132
8788 6132
8884 6132
8920 6132
9016 6132
9116 6132
9194 6132
9272 6132
9350 6132
9428 6132
9508 6132
9604 6132
9620 6132
9796 6132
9860 6132
28 6131
106 6131
240 6131
388 6131
466 6131
544 6131
622 6131
700 6131
778 6131
856 6131
934 6131
1012 6131
1090 6131
1168 6131
1246 6131
1324 6131
1428 6131
1516 6131
1594 6131
1652 6131
1736 6131
1814 6131
1868 6131
1964 6131
2084 6131
2188 6131
2284 6131
2362 6131
2440 6131
2518 6131
2596 6131
2700 6131
2804 6131
2882 6131
2960 6131
3038 6131
3116 6131
3180 6131
3256 6131
3288 6131
3376 6131
3454 6131
3532 6131
3610 6131
3688 6131
3766 6131
3844 6131
3922 6131
3980 6131
4056 6131
4134 6131
4212 6131
4290 6131
4340 6131
4404 6131
4482 6131
4560 6131
4612 6131
4696 6131
4774 6131
4852 6131
4930 6131
5008 6131
5100 6131
5188 6131
5266 6131
5360 6131
5488 6131
5566 6131
5640 6131
5736 6131
5814 6131
5892 6131
5980 6131
6096 6131
6140 6131
6236 6131
6314 6131
6420 6131
6496 6131
6574 6131
6620 6131
6676 6131
6760 6131
6868 6131
6946 6131
7080 6131
7156 6131
7234 6131
7340 6131
7420 6131
7498 6131
7576 6131
7654 6131
7732 6131
7810 6131
7908 6131
7988 6131
8066 6131
8144 6131
8200 6131
8296 6131
8380 6131
8456 6131
8534 6131
8612 6131
8690 6131
8768 6131
8846 6131
8960 6131
9044 6131
9122 6131
9200 6131
9278 6131
9356 6131
9434 6131
9512 6131
9560 6131
9644 6131
9722 6131
9820 6131
28 6130
106 6130
184 6130
240 6130
316 6130
400 6130
484 6130
508 6130
628 6130
706 6130
784 6130
828 6130
916 6130
994 6130
1072 6130
1150 6130
1188 6130
1276 6130
1354 6130
1432 6130
1510 6130
1628 6130
1708 6130
1786 6130
1864 6130
1960 6130
2016 6130
2096 6130
2176 6130
2254 6130
2332 6130
2410 6130
2488 6130
2566 6130
2644 6130
2722 6130
2800 6130
2878 6130
2956 6130
3034 6130
3112 6130
3160 6130
3236 6130
3288 6130
3404 6130
3482 6130
3560 6130
3638 6130
3716 6130
3788 6130
3908 6130
3986 6130
4064 6130
4148 6130
4216 6130
4294 6130
4372 6130
4450 6130
4500 6130
4676 6130
4760 6130
4836 6130
4914 6130
4992 6130
5070 6130
5148 6130
5226 6130
5304 6130
5382 6130
5460 6130
5538 6130
5620 6130
5668 6130
5764 6130
5842 6130
5920 6130
6016 6130
6094 6130
6172 6130
6250 6130
6328 6130
6406 6130
6484 6130
6562 6130
6620 6130
6676 6130
6760 6130
6856 6130
6934 6130
7012 6130
7090 6130
7160 6130
7236 6130
7314 6130
7392 6130
7470 6130
7560 6130
7628 6130
7724 6130
7802 6130
7860 6130
7948 6130
8052 6130
8164 6130
8242 6130
8320 6130
8398 6130
8476 6130
8520 6130
8596 6130
8640 6130
8736 6130
8814 6130
8900 6130
9016 6130
9094 6130
9172 6130
9250 6130
9328 6130
9406 6130
9484 6130
9562 6130
9640 6130
9718 6130
9796 6130
9860 6130
28 6129
80 6129
188 6129
266 6129
320 6129
404 6129
482 6129
560 6129
640 6129
708 6129
816 6129
894 6129
972 6129
1050 6129
1128 6129
1206 6129
1284 6129
1362 6129
1440 6129
1518 6129
1596 6129
1674 6129
1752 6129
1830 6129
1908 6129
1986 6129
2060 6129
2136 6129
2212 6129
2296 6129
2374 6129
2452 6129
2532 6129
2628 6129
2720 6129
2804 6129
2882 6129
2960 6129
3038 6129
3116 6129
3194 6129
3260 6129
3316 6129
3348 6129
3456 6129
3534 6129
3612 6129
3690 6129
3768 6129
3846 6129
3932 6129
4016 6129
4094 6129
4172 6129
4250 6129
4328 6129
4406 6129
4484 6129
4562 6129
4640 6129
4720 6129
4780 6129
4916 6129
4994 6129
5072 6129
5140 6129
5248 6129
5388 6129
5484 6129
5562 6129
5680 6129
5804 6129
5852 6129
5936 6129
6014 6129
6092 6129
6170 6129
6248 6129
6326 6129
6404 6129
6482 6129
6560 6129
6620 6129
6676 6129
6764 6129
6842 6129
6960 6129
7168 6129
7246 6129
7324 6129
7402 6129
7480 6129
7558 6129
7636 6129
7714 6129
7792 6129
7868 6129
7948 6129
8044 6129
8122 6129
8200 6129
8278 6129
8356 6129
8434 6129
8512 6129
8590 6129
8668 6129
8746 6129
8824 6129
8902 6129
8980 6129
9058 6129
9136 6129
9214 6129
9292 6129
9370 6129
9448 6129
9526 6129
9604 6129
9682 6129
9760 6129
9838 6129
28 6128
106 6128
200 6128
428 6128
506 6128
584 6128
668 6128
748 6128
800 6128
876 6128
954 6128
1060 6128
1156 6128
1234 6128
1312 6128
1390 6128
1468 6128
1588 6128
1696 6128
1732 6128
1844 6128
1900 6128
1976 6128
2054 6128
2132 6128
2228 6128
2296 6128
2376 6128
2454 6128
2532 6128
2600 6128
2856 6128
2934 6128
3012 6128
3090 6128
3168 6128
3260 6128
3316 6128
3360 6128
3508 6128
3676 6128
3692 6128
3804 6128
3840 6128
3936 6128
3980 6128
4096 6128
4132 6128
4208 6128
4308 6128
4386 6128
4464 6128
4542 6128
4620 6128
4698 6128
4776 6128
4854 6128
4908 6128
5016 6128
5060 6128
5148 6128
5200 6128
5284 6128
5332 6128
5416 6128
5440 6128
5696 6128
5780 6128
5896 6128
6096 6128
6174 6128
6240 6128
6436 6128
6440 6128
6708 6128
6816 6128
6920 6128
7016 6128
7094 6128
7188 6128
7300 6128
7416 6128
7440 6128
7588 6128
7676 6128
7754 6128
7832 6128
7900 6128
8076 6128
8154 6128
8232 6128
8332 6128
8428 6128
8576 6128
8684 6128
8772 6128
8900 6128
8978 6128
9056 6128
9134 6128
9200 6128
9336 6128
9414 6128
9492 6128
9560 6128
9656 6128
9734 6128
9852 6128
28 6127
92 6127
188 6127
344 6127
422 6127
508 6127
616 6127
716 6127
732 6127
820 6127
928 6127
1028 6127
1106 6127
1184 6127
1262 6127
1340 6127
1418 6127
1496 6127
1548 6127
1608 6127
1724 6127
1802 6127
1880 6127
1958 6127
2036 6127
2114 6127
2192 6127
2270 6127
2348 6127
2426 6127
2504 6127
2582 6127
2660 6127
2760 6127
2996 6127
3074 6127
3152 6127
3230 6127
3316 6127
3394 6127
3472 6127
3550 6127
3628 6127
3706 6127
3784 6127
3862 6127
3920 6127
4028 6127
4106 6127
4184 6127
4262 6127
4340 6127
4420 6127
4508 6127
4586 6127
4664 6127
4772 6127
4848 6127
4900 6127
5000 6127
5096 6127
5132 6127
5248 6127
5416 6127
5492 6127
5632 6127
5804 6127
5882 6127
5960 6127
6038 6127
6108 6127
6216 6127
6294 6127
6372 6127
6450 6127
6528 6127
6620 6127
6676 6127
6754 6127
6812 6127
6916 6127
7016 6127
7094 6127
7180 6127
7280 6127
7424 6127
7548 6127
7736 6127
7800 6127
7896 6127
7932 6127
8036 6127
8120 6127
8268 6127
8388 6127
8466 6127
8560 6127
8680 6127
8816 6127
8896 6127
8974 6127
9052 6127
9130 6127
9208 6127
9286 6127
9360 6127
9456 6127
9534 6127
9612 6127
9690 6127
9768 6127
9840 6127
108 6126
200 6126
352 6126
448 6126
548 6126
776 6126
900 6126
1028 6126
1120 6126
1192 6126
1276 6126
1354 6126
1432 6126
1510 6126
1588 6126
1666 6126
1744 6126
1822 6126
1920 6126
2068 6126
2146 6126
2212 6126
2316 6126
2416 6126
2494 6126
2560 6126
2644 6126
2722 6126
2788 6126
2868 6126
3176 6126
3260 6126
3316 6126
3372 6126
3456 6126
3534 6126
3572 6126
3656 6126
3680 6126
3808 6126
3940 6126
4044 6126
4108 6126
4236 6126
4314 6126
4420 6126
4568 6126
4668 6126
4764 6126
4842 6126
4920 6126
4988 6126
5076 6126
5172 6126
5268 6126
5368 6126
5500 6126
5520 6126
5616 6126
5694 6126
5772 6126
5820 6126
5936 6126
6014 6126
6092 6126
6160 6126
6256 6126
6436 6126
6514 6126
6592 6126
6676 6126
6732 6126
6836 6126
6960 6126
7076 6126
7154 6126
7280 6126
7444 6126
7522 6126
7612 6126
7720 6126
7808 6126
7924 6126
8000 6126
8148 6126
8320 6126
8484 6126
8520 6126
8708 6126
8786 6126
8864 6126
8980 6126
9176 6126
9254 6126
9332 6126
9410 6126
9492 6126
9636 6126
9732 6126
9832 6126
40 6125
196 6125
274 6125
360 6125
444 6125
522 6125
600 6125
678 6125
756 6125
834 6125
932 6125
1116 6125
1188 6125
1308 6125
1404 6125
1508 6125
1600 6125
1736 6125
1748 6125
1876 6125
1972 6125
2080 6125
2196 6125
2228 6125
2348 6125
2426 6125
2504 6125
2548 6125
2656 6125
2740 6125
2880 6125
3120 6125
3316 6125
3340 6125
3428 6125
3560 6125
3656 6125
3734 6125
3880 6125
4016 6125
4094 6125
4172 6125
4240 6125
4336 6125
4360 6125
4456 6125
4468 6125
4668 6125
4746 6125
4824 6125
4902 6125
4980 6125
5058 6125
5160 6125
5256 6125
5260 6125
5428 6125
5506 6125
5572 6125
5676 6125
5732 6125
5836 6125
5936 6125
6120 6125
6268 6125
6346 6125
6424 6125
6502 6125
6580 6125
6620 6125
6736 6125
6814 6125
6880 6125
6996 6125
7096 6125
7200 6125
7296 6125
7308 6125
7416 6125
7494 6125
7572 6125
7650 6125
7700 6125
7816 6125
7820 6125
7920 6125
8036 6125
8114 6125
8192 6125
8260 6125
8556 6125
8640 6125
8708 6125
8796 6125
8874 6125
8960 6125
9088 6125
9216 6125
9294 6125
9372 6125
9450 6125
9528 6125
9640 6125
9756 6125
9834 6125
};
\end{axis}
\end{tikzpicture}
\end{document}
